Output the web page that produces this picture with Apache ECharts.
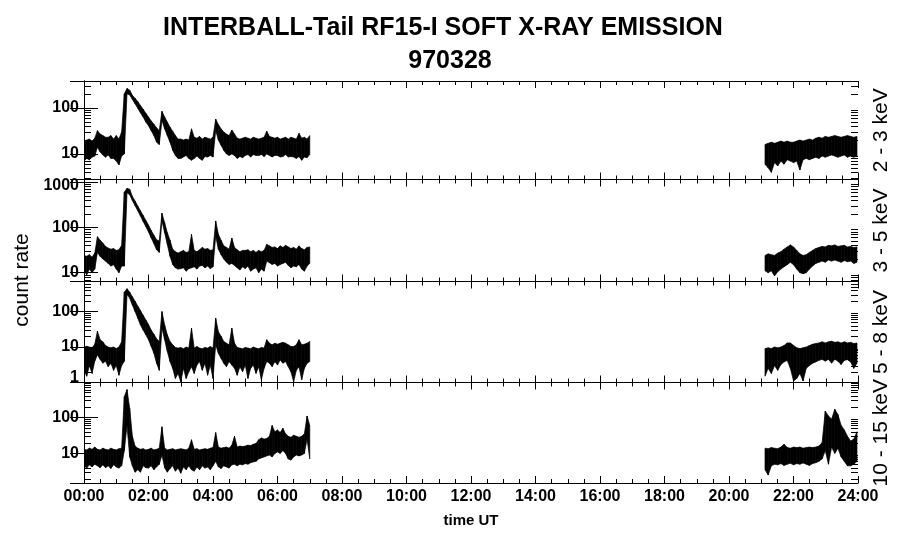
<!DOCTYPE html>
<html>
<head>
<meta charset="utf-8">
<title>INTERBALL-Tail RF15-I soft X-ray emission 970328</title>
<script src="https://cdn.jsdelivr.net/npm/echarts@6/dist/echarts.min.js"></script>
<style>
  html, body { margin: 0; padding: 0; background: #fff; }
  #chart { width: 900px; height: 548px; }
</style>
</head>
<body>
<div id="chart"></div>
<script>
// sampling grid of the read-off envelopes (minutes UT)
const LEFT_START = 0, LEFT_STEP = 5;       // 00:00 .. 07:00
const RIGHT_START = 1267, RIGHT_STEP = 5.9; // ~21:07 .. 24:00

const bandNames = ['2 - 3 keV', '3 - 5 keV', '5 - 8 keV', '10 - 15 keV'];
const yMin = [2.8, 6.4, 1, 1.5];
const yMax = [380, 1130, 700, 940];
const xLabels = ['00:00', '02:00', '04:00', '06:00', '08:00', '10:00', '12:00',
  '14:00', '16:00', '18:00', '20:00', '22:00', '24:00'];
const minorMant = [2, 3, 4, 5, 6, 7, 8, 9];
const decades = [1, 10, 100];

// upper / lower edge of the noisy trace, 2 - 3 keV
const hi1L = [19, 20, 21, 19, 22, 32, 27, 25, 23, 23, 25, 21, 25, 21, 30, 200, 262, 240, 186, 160,
  136, 112, 93, 76, 63, 52, 44, 37, 32, 84, 63, 49, 38, 31, 25, 21, 21, 20, 21, 20,
  35, 23, 22, 24, 21, 23, 22, 21, 23, 57, 43, 35, 30, 27, 25, 33, 27, 22, 21, 22,
  23, 22, 21, 23, 22, 21, 22, 23, 31, 24, 23, 22, 23, 21, 22, 23, 21, 23, 22, 21,
  28, 22, 23, 21, 25];
const lo1L = [7, 8, 7.5, 8.5, 9, 14, 11, 9.5, 8.5, 9.5, 8, 8, 7, 5.8, 9, 10, 200, 190, 152, 122,
  98, 78, 63, 49, 41, 32, 25, 18, 16, 53, 35, 25, 18, 12, 9.3, 8, 8, 8.6, 9.3, 8,
  7.3, 8, 9, 8, 7.3, 8.8, 8.6, 9.3, 8.6, 32, 20, 15.5, 12, 10, 9.3, 10, 9.3, 8, 8.8, 8.3,
  9.3, 9.7, 8.6, 9.7, 9.3, 9.3, 9.7, 8.8, 10, 9.3, 8.6, 9.3, 9.3, 8.6, 8.8, 9.7, 8.6, 8.8, 8.6, 8,
  8.8, 7.3, 8.6, 8.3, 9.7];
const hi1R = [16, 17, 18, 17, 18, 19, 18, 19, 18, 18, 19, 20, 19, 20, 21, 20, 22, 23, 22, 24,
  23, 24, 25, 24, 23, 24, 25, 24, 23, 24];
const lo1R = [6, 5, 4, 6.5, 5.5, 7, 6, 7.5, 7, 6.5, 7, 4.5, 7.5, 8, 7.5, 8, 8.5, 8, 9, 8.5,
  9, 9.5, 9, 8.5, 9, 9.5, 8.5, 9, 8.5, 9];

// 3 - 5 keV
const hi2L = [24, 23, 25, 22, 27, 62, 52, 45, 38, 35, 33, 34, 31, 32, 40, 600, 720, 690, 480, 380,
  294, 232, 183, 142, 112, 85, 67, 53, 50, 205, 126, 76, 52, 33, 29, 27, 29, 31, 28, 29,
  70, 31, 29, 32, 36, 33, 34, 31, 32, 138, 70, 52, 39, 36, 33, 58, 36, 32, 29, 31,
  31, 32, 29, 31, 28, 31, 29, 31, 42, 39, 36, 37, 34, 39, 36, 40, 37, 34, 36, 33,
  39, 34, 32, 36, 37];
const lo2L = [11, 9, 12, 10, 12, 28, 23, 20, 18, 16, 14, 15, 12, 10, 14, 14, 580, 520, 390, 300,
  232, 177, 135, 104, 79, 58, 44, 32, 28, 138, 76, 42, 23, 15.2, 12.8, 12, 12.3, 12.8, 10.8, 12.3,
  12.8, 13.5, 12, 14, 14.5, 12.8, 14, 12.3, 13.5, 64, 33, 25, 20, 17, 15.2, 16, 14.5, 12.8, 11.5, 13.5,
  12.3, 14, 10.8, 12, 12.8, 10, 12, 10.8, 18, 16.6, 15.2, 16, 14, 15.2, 16, 17, 14.5, 12.8, 14, 13.5,
  15.2, 12, 10.8, 14, 16];
const hi2R = [24, 26, 25, 24, 27, 29, 33, 37, 41, 37, 31, 26, 24, 25, 28, 31, 34, 36, 38, 37,
  40, 39, 41, 38, 39, 40, 37, 38, 36, 37];
const lo2R = [11, 10, 11, 8.5, 10.5, 12, 13.5, 15, 17, 15, 12, 10, 9.5, 10, 12, 14, 16, 17, 18, 17,
  19, 18, 19, 18, 17, 18.5, 17.5, 18, 16, 17];

// 5 - 8 keV
const hi3L = [10, 10.5, 10, 9.5, 12, 28, 16, 14, 11, 10, 9.5, 10, 9, 10, 14, 350, 440, 350, 260, 195,
  143, 107, 78, 58, 43, 30, 23, 17, 14.3, 100, 42, 22, 14.3, 11.5, 9.7, 9.3, 9.7, 8.9, 10, 9.3,
  34, 9.3, 10.3, 9.3, 8.9, 9.7, 9.3, 10.3, 9.3, 65, 27, 20, 14.3, 12.8, 11.5, 34, 12.8, 9.7, 9.3, 8.9,
  9.7, 9.3, 8.9, 10, 9.3, 8.9, 9.7, 9.3, 16, 12.8, 11.5, 12.8, 12, 12.8, 13.5, 12.8, 11.5, 10.3, 10.3, 11.5,
  16, 11.5, 12, 12.8, 14.3];
const lo3L = [2.2, 1.5, 3, 1.8, 4, 6, 4.5, 3.5, 4, 2.8, 3.5, 2.2, 3, 1.6, 3, 4, 300, 237, 153, 100,
  65, 42, 30, 22, 16, 10.4, 6.7, 3.5, 2.2, 34, 16, 7.5, 3.9, 2.5, 1.3, 1.8, 1.05, 2.5, 1.3, 2,
  2.8, 1.8, 3.1, 3.9, 2.2, 3.5, 1.6, 3.1, 1.3, 11.5, 6.7, 4.8, 3.5, 2.8, 3.9, 3.1, 2.5, 1.6, 2.8, 2,
  3.1, 1.3, 2.5, 3.1, 1.8, 2.8, 1.2, 2.5, 3.9, 3.5, 2.8, 3.9, 3.1, 4.3, 3.5, 3.9, 2.8, 2, 1.05, 2.2,
  2.8, 1.2, 2.5, 3.5, 3.9];
const hi3R = [9, 9.5, 9, 10, 9.5, 10, 11, 13, 13, 11, 9.5, 9, 9.5, 10, 11, 12, 12.5, 13, 14, 13,
  14, 14.5, 13.5, 14, 13, 14, 13, 13.5, 12.5, 13];
const lo3R = [1.5, 2.5, 1.8, 3, 2.2, 3.2, 3.8, 4.2, 2.5, 1.1, 1.3, 1.8, 1.1, 2.5, 3, 3.5, 3.8, 4.2, 4.5, 4,
  4.5, 3.5, 4.5, 4, 3.2, 4.2, 4.4, 3.8, 2.5, 3.5];

// 10 - 15 keV
const hi4L = [13, 12.5, 14, 13, 15, 13, 12.5, 14, 13, 12.5, 14, 13, 12.5, 13.5, 14, 380, 600, 180, 30, 16,
  14, 13, 13.5, 12.5, 13, 14, 12.5, 13, 14, 55, 14, 12.5, 13, 13.5, 12.5, 13, 13.5, 13, 12.5, 14,
  24, 13, 13.5, 12.5, 13, 13.5, 13, 14, 14.5, 38, 15, 14, 14.5, 15, 14, 17, 30, 15, 16, 15.5,
  16, 17, 16.5, 18, 19, 24, 27, 25, 26, 30, 60, 40, 45, 38, 50, 35, 30, 28, 32, 30,
  28, 30, 35, 110, 60];
const lo4L = [4.5, 3.9, 4.8, 4.2, 5, 4.5, 4, 4.8, 4, 4.5, 3.8, 4.8, 4.2, 3.9, 4.5, 12, 60, 8, 4.5, 3,
  3.5, 3, 4.5, 4, 3.9, 4.5, 3.5, 4.2, 5, 9, 4, 3, 3.8, 4.5, 3.2, 3.9, 2.8, 4.2, 3.5, 4.5,
  3.5, 3.2, 4.2, 3.5, 4.5, 3.9, 4.2, 3.5, 4.5, 6, 4.2, 3.8, 4.5, 4.2, 3.9, 4.8, 5, 4.5, 5, 4.8,
  5.2, 5, 5.5, 5.8, 6, 7, 7.5, 8, 8.5, 9, 8, 10, 11, 10, 12, 10, 7, 6.5, 8, 9,
  8.5, 9, 10, 25, 7];
const hi4R = [14, 13.5, 14.5, 14, 13.5, 15, 18, 14.5, 14, 15, 14.5, 15, 14, 14.5, 15, 14.5, 15, 16, 20, 150,
  110, 90, 170, 120, 60, 45, 30, 22, 25, 40];
const lo4R = [3.5, 2.5, 4.5, 5, 4.8, 5.2, 4.6, 5, 5.3, 4.8, 5.2, 5, 5.4, 5, 4.6, 5.2, 5.5, 6, 7, 12,
  5, 15, 10, 14, 8, 6, 4.5, 4.5, 5, 6];

const panels = [
  { left: [lo1L, hi1L], right: [lo1R, hi1R] },
  { left: [lo2L, hi2L], right: [lo2R, hi2R] },
  { left: [lo3L, hi3L], right: [lo3R, hi3R] },
  { left: [lo4L, hi4L], right: [lo4R, hi4R] }
];

const gridTop = [81, 179.5, 281.5, 382.5];
const gridHeight = [98.5, 102, 101, 100.5];

const chart = echarts.init(document.getElementById('chart'));

function bandData(lo, hi, start, step) {
  return lo.map((l, i) => [(start + i * step) / 60, l, hi[i]]);
}

// filled band between this sample and the next one
function bandRenderer(data) {
  return function (params, api) {
    const i = params.dataIndex;
    if (i >= data.length - 1) return null;
    const a = data[i], b = data[i + 1];
    const pts = [
      api.coord([a[0], a[2]]), api.coord([b[0], b[2]]),
      api.coord([b[0], b[1]]), api.coord([a[0], a[1]])
    ];
    return {
      type: 'polygon',
      shape: { points: pts },
      style: { fill: '#000', stroke: '#000', lineWidth: 0.7 }
    };
  };
}

function minorTickRenderer(params, api) {
  const v = api.value(1);
  const l = api.coord([0, v]);
  const r = api.coord([24, v]);
  const y = Math.round(l[1]) + 0.5;
  return {
    type: 'group',
    children: [
      { type: 'line', shape: { x1: l[0], y1: y, x2: l[0] + 7, y2: y }, style: { stroke: '#000', lineWidth: 1 } },
      { type: 'line', shape: { x1: r[0] - 7, y1: y, x2: r[0], y2: y }, style: { stroke: '#000', lineWidth: 1 } }
    ]
  };
}

const black = { color: '#000', width: 1 };
const grid = [], xAxis = [], yAxis = [], series = [];

panels.forEach((p, i) => {
  grid.push({ left: 84, right: 42, top: gridTop[i], height: gridHeight[i] });

  ['bottom', 'top'].forEach(pos => {
    const withLabels = pos === 'bottom' && i === 3;
    xAxis.push({
      gridIndex: i, type: 'value', position: pos, min: 0, max: 24, interval: 2,
      axisLine: { onZero: false, lineStyle: black },
      axisTick: { inside: true, length: 7, lineStyle: black },
      minorTick: { show: true, splitNumber: 4, length: 4, lineStyle: black },
      splitLine: { show: false },
      axisLabel: {
        show: withLabels, color: '#000', fontSize: 16, fontWeight: 'bold',
        fontFamily: 'Liberation Sans', margin: 6,
        formatter: v => xLabels[Math.round(v / 2)]
      },
      name: withLabels ? 'time UT' : '',
      nameLocation: 'middle', nameGap: 30,
      nameTextStyle: { color: '#000', fontSize: 15, fontWeight: 'bold', fontFamily: 'Liberation Sans' }
    });
  });

  ['left', 'right'].forEach(pos => {
    yAxis.push({
      gridIndex: i, type: 'log', logBase: 10, position: pos,
      min: yMin[i], max: yMax[i], splitNumber: i < 2 ? 2 : 3,
      axisLine: { lineStyle: black },
      axisTick: { inside: true, length: 14, lineStyle: black },
      splitLine: { show: false },
      axisLabel: {
        show: pos === 'left', color: '#000', fontSize: 16, fontWeight: 'bold',
        fontFamily: 'Liberation Sans', margin: 5,
        showMinLabel: i === 2, showMaxLabel: false,
        formatter: v => {
          const s = String(Math.round(v));
          if (i === 2 && s === '1') return '{lo|1}';
          if (i === 1 && s === '1000') return '{hi|1000}';
          return s;
        },
        rich: {
          lo: { fontSize: 16, fontWeight: 'bold', fontFamily: 'Liberation Sans', color: '#000', padding: [0, 0, 10, 0] },
          hi: { fontSize: 16, fontWeight: 'bold', fontFamily: 'Liberation Sans', color: '#000', padding: [8, 0, 0, 0] }
        }
      },
      name: pos === 'right' ? bandNames[i] : '',
      nameLocation: 'middle', nameRotate: 90, nameGap: 13,
      nameTextStyle: { color: '#000', fontSize: 21, fontFamily: 'Liberation Sans' }
    });
  });

  const minorVals = [];
  decades.forEach(d => minorMant.forEach(m => {
    const v = m * d;
    if (v > yMin[i] && v < yMax[i]) minorVals.push([0, v]);
  }));

  const leftData = bandData(p.left[0], p.left[1], LEFT_START, LEFT_STEP);
  const rightData = bandData(p.right[0], p.right[1], RIGHT_START, RIGHT_STEP);

  series.push({
    type: 'custom', xAxisIndex: 2 * i, yAxisIndex: 2 * i, clip: true, silent: true,
    data: leftData, encode: { x: 0, y: [1, 2] },
    renderItem: bandRenderer(leftData)
  }, {
    type: 'custom', xAxisIndex: 2 * i, yAxisIndex: 2 * i, clip: true, silent: true,
    data: rightData, encode: { x: 0, y: [1, 2] },
    renderItem: bandRenderer(rightData)
  }, {
    type: 'custom', xAxisIndex: 2 * i, yAxisIndex: 2 * i, silent: true,
    data: minorVals, encode: { x: 0, y: 1 },
    renderItem: minorTickRenderer
  });
});

const option = {
  animation: false,
  backgroundColor: '#fff',
  grid: grid,
  xAxis: xAxis,
  yAxis: yAxis,
  series: series,
  graphic: [
    {
      type: 'text', x: 443, y: 28,
      style: { text: 'INTERBALL-Tail RF15-I SOFT X-RAY EMISSION', textAlign: 'center', textVerticalAlign: 'middle',
        font: 'bold 25px "Liberation Sans"', fill: '#000' }
    },
    {
      type: 'text', x: 450, y: 61,
      style: { text: '970328', textAlign: 'center', textVerticalAlign: 'middle',
        font: 'bold 25px "Liberation Sans"', fill: '#000' }
    },
    {
      type: 'text', x: 22, y: 280, rotation: Math.PI / 2,
      style: { text: 'count rate', textAlign: 'center', textVerticalAlign: 'middle',
        font: '21px "Liberation Sans"', fill: '#000' }
    }
  ]
};

chart.setOption(option);
</script>
</body>
</html>
